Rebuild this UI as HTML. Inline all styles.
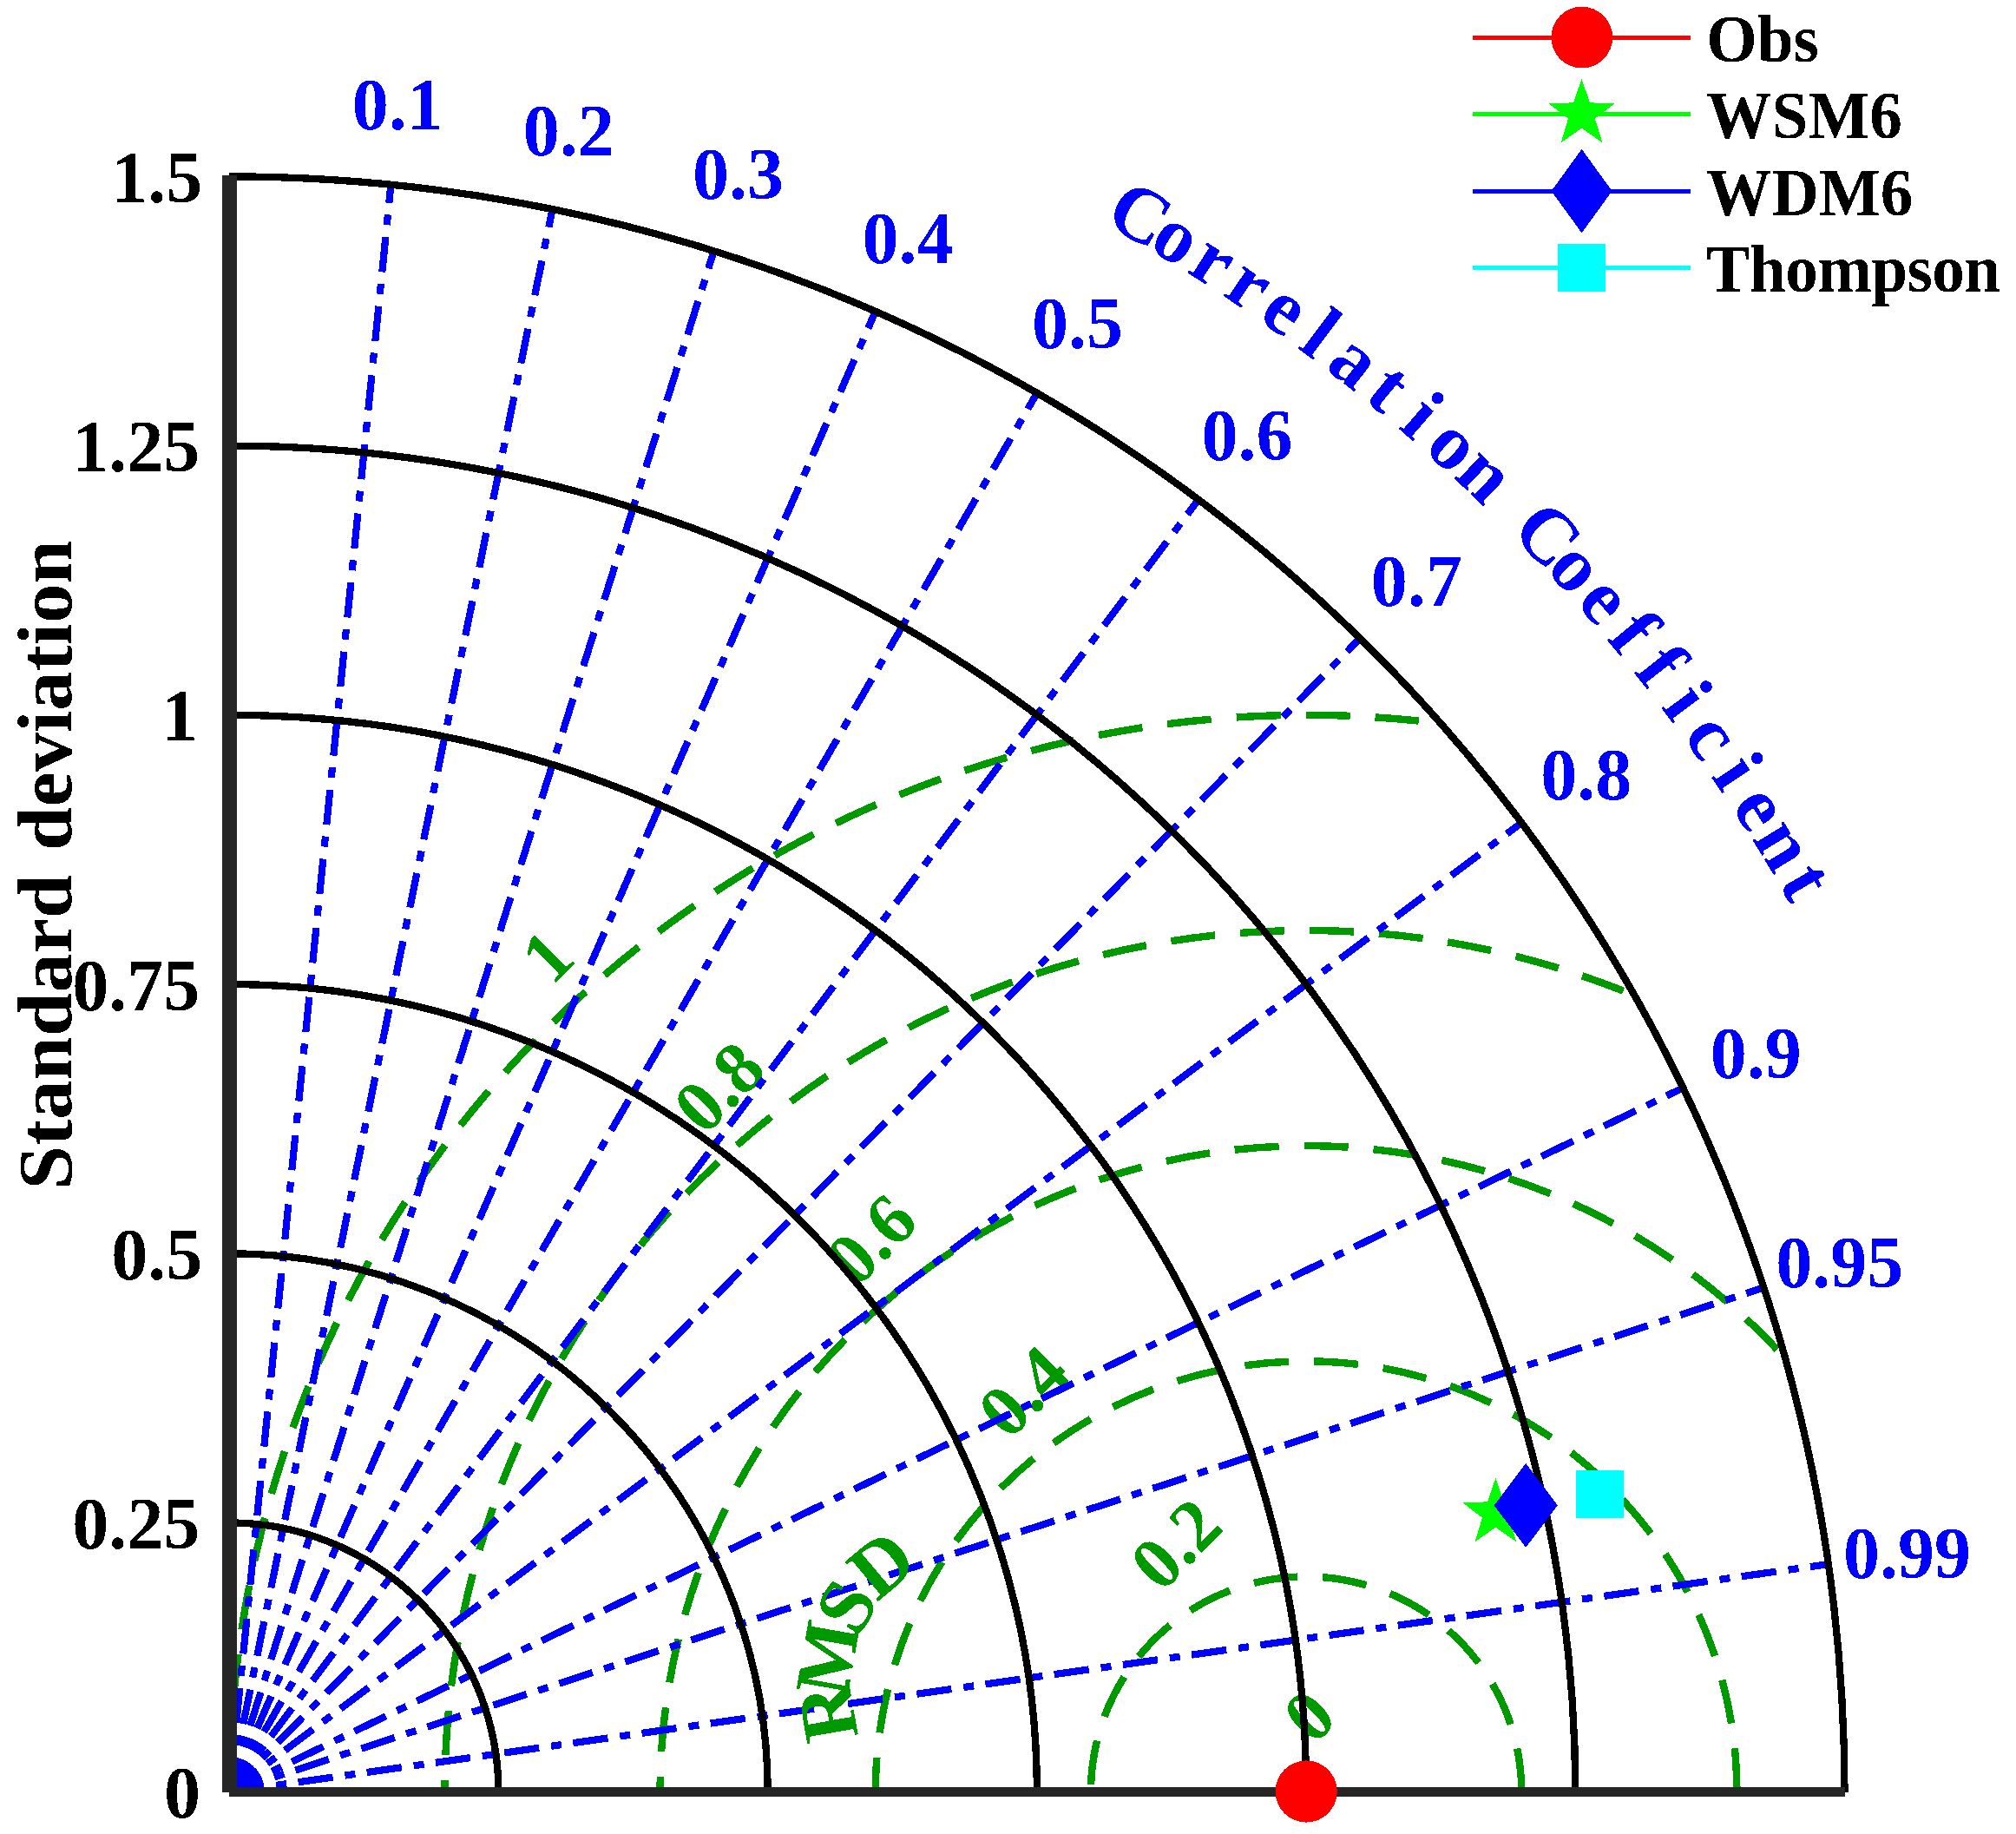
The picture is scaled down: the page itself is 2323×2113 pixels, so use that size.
<!DOCTYPE html>
<html lang="en"><head><meta charset="utf-8"><title>Taylor diagram</title>
<style>html,body{margin:0;padding:0;background:#fff}body{width:2323px;height:2113px;overflow:hidden}svg{display:block}</style>
</head><body>
<svg width="2323" height="2113" viewBox="0 0 2323 2113" font-family='"Liberation Serif", "Times New Roman", serif' font-weight="bold">
<rect width="2323" height="2113" fill="#fff"/>
<defs><filter id="thr" filterUnits="userSpaceOnUse" x="0" y="0" width="2323" height="2113" color-interpolation-filters="sRGB"><feComponentTransfer><feFuncA type="discrete" tableValues="0 1"/></feComponentTransfer></filter></defs>
<g fill="none" stroke="#009900" stroke-width="8.4" stroke-dasharray="51 29" stroke-dashoffset="0.5" shape-rendering="crispEdges">
<path d="M1753.26 2064.60A248.16 248.16 0 0 0 1256.94 2064.60"/>
<path d="M2001.42 2064.60A496.32 496.32 0 0 0 1008.78 2064.60"/>
<path d="M2047.80 1554.97A744.48 744.48 0 0 0 760.62 2064.60"/>
<path d="M1870.52 1141.67A992.64 992.64 0 0 0 512.46 2064.60"/>
<path d="M1634.80 830.60A1240.80 1240.80 0 0 0 264.30 2064.60"/>
</g>
<g font-size="84" fill="#009900" filter="url(#thr)">
<text transform="translate(1526.0 2024.3) rotate(-45)" y="-17.8">0</text>
<text transform="translate(1350.5 1848.8) rotate(-45)" y="-17.8">0.2</text>
<text transform="translate(1175.0 1673.3) rotate(-45)" y="-17.8">0.4</text>
<text transform="translate(999.6 1497.9) rotate(-45)" y="-17.8">0.6</text>
<text transform="translate(824.1 1322.4) rotate(-45)" y="-17.8">0.8</text>
<text transform="translate(648.6 1149.4) rotate(-45)" y="-17.8">1</text>
</g>
<g fill="none" stroke="#0000ff" stroke-width="8.2" stroke-dasharray="40.5 14 12 13.5" shape-rendering="crispEdges">
<path d="M264.3 2064.6L450.42 212.73"/>
<path d="M264.3 2064.6L636.54 241.00"/>
<path d="M264.3 2064.6L822.66 289.13"/>
<path d="M264.3 2064.6L1008.78 358.78"/>
<path d="M264.3 2064.6L1194.90 452.75"/>
<path d="M264.3 2064.6L1381.02 575.64"/>
<path d="M264.3 2064.6L1567.14 735.44"/>
<path d="M264.3 2064.6L1753.26 947.88"/>
<path d="M264.3 2064.6L1939.38 1253.32"/>
<path d="M264.3 2064.6L2032.44 1483.44"/>
<path d="M264.3 2064.6L2106.89 1802.05"/>
</g>
<g fill="none" stroke="#000" stroke-width="8.3" shape-rendering="crispEdges">
<path d="M574.50 2064.6A310.20 310.20 0 0 0 264.3 1754.40"/>
<path d="M884.70 2064.6A620.40 620.40 0 0 0 264.3 1444.20"/>
<path d="M1194.90 2064.6A930.60 930.60 0 0 0 264.3 1134.00"/>
<path d="M1505.10 2064.6A1240.80 1240.80 0 0 0 264.3 823.80"/>
<path d="M1815.30 2064.6A1551.00 1551.00 0 0 0 264.3 513.60"/>
<path d="M2125.50 2064.6A1861.20 1861.20 0 0 0 264.3 203.40"/>
</g>
<g font-size="90.75" fill="#009900" text-anchor="middle" filter="url(#thr)">
<text transform="translate(953.8 1973.2) rotate(-100)" y="30">R</text>
<text transform="translate(953.8 1910.0) rotate(-80)" y="30">M</text>
<text transform="translate(975.4 1850.6) rotate(-60)" y="30">S</text>
<text transform="translate(1016.0 1802.2) rotate(-40)" y="30">D</text>
</g>
<g shape-rendering="crispEdges" fill="#262626">
<rect x="256" y="202" width="16.8" height="1862.7"/>
<rect x="264.1" y="2059.1" width="1862.1" height="10.8"/>
</g>
<g font-size="84" text-anchor="end" fill="#000" filter="url(#thr)">
<text x="231.1" y="2094.2">0</text>
<text x="230.3" y="1784.0">0.25</text>
<text x="233.2" y="1473.8">0.5</text>
<text x="230.3" y="1163.6">0.75</text>
<text x="228.1" y="853.4">1</text>
<text x="230.3" y="543.2">1.25</text>
<text x="233.2" y="233.0">1.5</text>
</g>
<g filter="url(#thr)"><text font-size="90.75" text-anchor="middle" word-spacing="4.7" transform="translate(81.8 996.3) rotate(-90) scale(1 0.97)">Standard deviation</text></g>
<g font-size="84" text-anchor="middle" fill="#0000ff" filter="url(#thr)">
<text x="458.2" y="149.1">0.1</text>
<text x="655.2" y="178.8">0.2</text>
<text x="850.6" y="229.3">0.3</text>
<text x="1046.0" y="302.5">0.4</text>
<text x="1241.4" y="401.1">0.5</text>
<text x="1436.9" y="530.2">0.6</text>
<text x="1632.3" y="698.0">0.7</text>
<text x="1827.7" y="921.0">0.8</text>
<text x="2023.2" y="1241.7">0.9</text>
<text x="2119.7" y="1483.4">0.95</text>
<text x="2197.6" y="1817.9">0.99</text>
</g>
<g font-size="90.75" text-anchor="middle" fill="#0000ff" filter="url(#thr)">
<text transform="translate(1288.0 291.6) rotate(30.00)" y="-22">C</text>
<text transform="translate(1329.9 316.4) rotate(31.36)" y="-22">o</text>
<text transform="translate(1371.2 342.3) rotate(32.73)" y="-22">r</text>
<text transform="translate(1411.8 369.1) rotate(34.09)" y="-22">r</text>
<text transform="translate(1451.9 396.9) rotate(35.45)" y="-22">e</text>
<text transform="translate(1491.2 425.6) rotate(36.82)" y="-22">l</text>
<text transform="translate(1529.9 455.3) rotate(38.18)" y="-22">a</text>
<text transform="translate(1567.8 485.9) rotate(39.55)" y="-22">t</text>
<text transform="translate(1605.0 517.3) rotate(40.91)" y="-22">i</text>
<text transform="translate(1641.5 549.7) rotate(42.27)" y="-22">o</text>
<text transform="translate(1677.1 582.9) rotate(43.64)" y="-22">n</text>
<text transform="translate(1746.0 651.8) rotate(46.36)" y="-22">C</text>
<text transform="translate(1779.2 687.4) rotate(47.73)" y="-22">o</text>
<text transform="translate(1811.6 723.9) rotate(49.09)" y="-22">e</text>
<text transform="translate(1843.0 761.1) rotate(50.45)" y="-22">f</text>
<text transform="translate(1873.6 799.0) rotate(51.82)" y="-22">f</text>
<text transform="translate(1903.3 837.7) rotate(53.18)" y="-22">i</text>
<text transform="translate(1932.0 877.0) rotate(54.55)" y="-22">c</text>
<text transform="translate(1959.8 917.1) rotate(55.91)" y="-22">i</text>
<text transform="translate(1986.6 957.7) rotate(57.27)" y="-22">e</text>
<text transform="translate(2012.5 999.0) rotate(58.64)" y="-22">n</text>
<text transform="translate(2037.3 1040.9) rotate(60.00)" y="-22">t</text>
</g>
<g shape-rendering="crispEdges">
<circle cx="1505.2" cy="2064" r="35.6" fill="#ff0000"/>
<polygon points="1723.4,1703.0 1713.9,1730.4 1684.9,1731.0 1708.0,1748.5 1699.6,1776.3 1723.4,1759.7 1747.2,1776.3 1738.8,1748.5 1761.9,1731.0 1732.9,1730.4" fill="#00ff00"/>
<polygon points="1758.2,1685.9 1794.8,1734.4 1758.2,1782.9 1721.6000000000001,1734.4" fill="#0000ff"/>
<rect x="1815.9" y="1693.8" width="55.2" height="55" fill="#00ffff"/>
<rect x="1696.8" y="40.7" width="251.3" height="5" fill="#ff0000"/>
<rect x="1696.8" y="129.0" width="251.3" height="5" fill="#00ff00"/>
<rect x="1696.8" y="217.9" width="251.3" height="5" fill="#0000ff"/>
<rect x="1696.8" y="305.7" width="251.3" height="5" fill="#00ffff"/>
<circle cx="1822.8" cy="43.1" r="35.4" fill="#ff0000"/>
<polygon points="1822.5,91.0 1813.0,118.4 1784.0,119.0 1807.1,136.5 1798.7,164.3 1822.5,147.7 1846.3,164.3 1837.9,136.5 1861.0,119.0 1832.0,118.4" fill="#00ff00"/>
<polygon points="1822.6,171.8 1857.6,220.1 1822.6,268.4 1787.6,220.1" fill="#0000ff"/>
<rect x="1794.9" y="280.6" width="55.2" height="55" fill="#00ffff"/>
</g>
<g font-size="75.2" fill="#000" filter="url(#thr)">
<text transform="translate(1966.3 70.9) scale(1 1.04)">Obs</text>
<text transform="translate(1966.3 159.2) scale(1 1.04)">WSM6</text>
<text transform="translate(1966.3 248.1) scale(1 1.04)">WDM6</text>
<text transform="translate(1966.3 335.9) scale(1 1.04)" letter-spacing="-0.55">Thompson</text>
</g>
</svg>
</body></html>
